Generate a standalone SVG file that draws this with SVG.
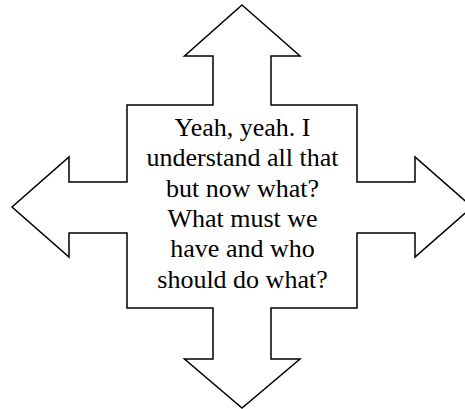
<svg xmlns="http://www.w3.org/2000/svg" width="465" height="409" viewBox="0 0 465 409">
  <style>
    .shape { fill: #ffffff; stroke: #000000; stroke-width: 1.5; stroke-linejoin: miter; }
    .label { font-family: "Liberation Serif", "Times New Roman", serif; font-size: 26px; fill: #000000; text-anchor: middle; }
  </style>
  <rect x="0" y="0" width="465" height="409" fill="#ffffff"/>
  <g id="quad-arrow">
    <polygon class="shape" points="242,5 300,56 271,56 271,105 357,105 357,182 415,182 415,157 472,207 415,257 415,233 357,233 357,308 271,308 271,359 300,359 242,408 184.5,359 213,359 213,308 127,308 127,233 69,233 69,257 12,207 69,157 69,182 127,182 127,105 213,105 213,56 184.5,56"/>
    <text class="label" x="242.5" y="136">Yeah, yeah. I</text>
    <text class="label" x="242.5" y="166.3">understand all that</text>
    <text class="label" x="242.5" y="196.6">but now what?</text>
    <text class="label" x="242.5" y="226.9">What must we</text>
    <text class="label" x="242.5" y="257.2">have and who</text>
    <text class="label" x="242.5" y="287.5">should do what?</text>
  </g>
</svg>
